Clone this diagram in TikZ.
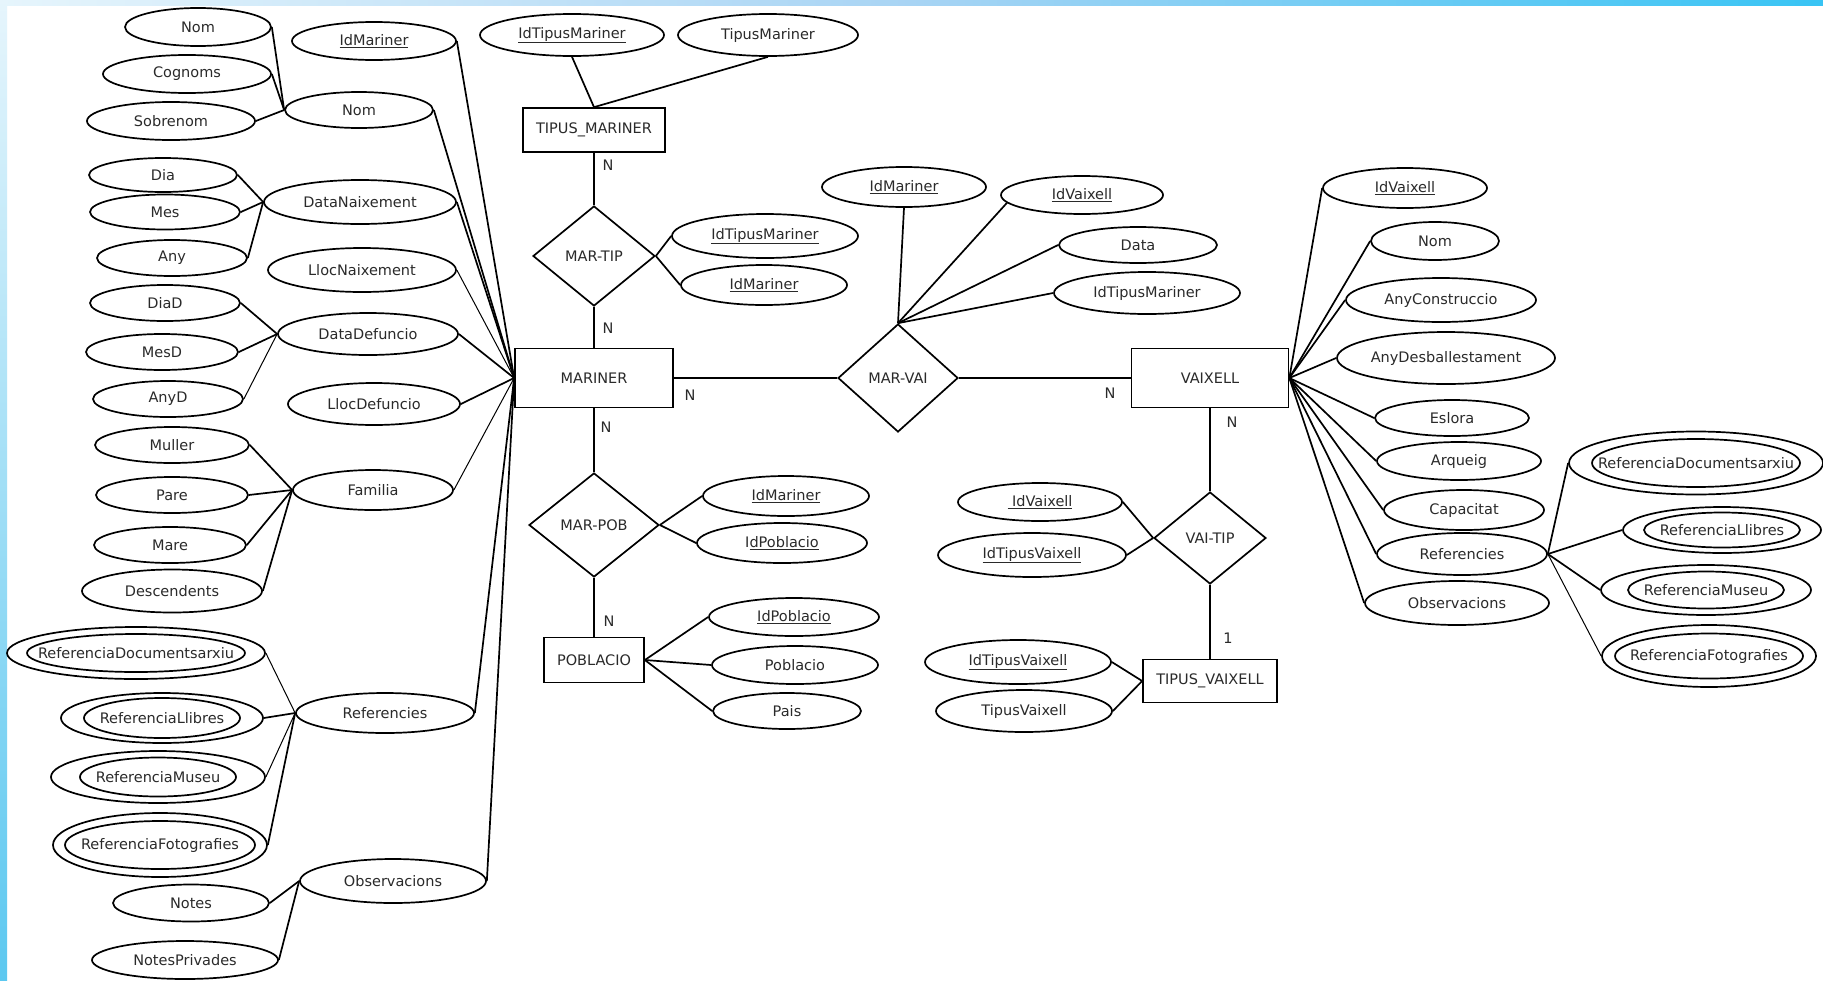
\documentclass[tikz,border=0pt]{standalone}
\usepackage{fontspec}
\setmainfont{DejaVu Sans}
\usetikzlibrary{shapes.geometric}
\definecolor{txt}{HTML}{2A2A2A}
\definecolor{stripA}{HTML}{E6F5FC}
\definecolor{stripB}{HTML}{A8D4F4}
\definecolor{stripC}{HTML}{38C4F4}
\definecolor{stripD}{HTML}{5CC8F0}
\tikzset{
  lab/.style={font=\fontsize{14.5pt}{17pt}\selectfont, text=txt},
  attr/.style={draw, ellipse, line width=1.7pt, inner sep=0pt, lab},
  ent/.style={draw, rectangle, line width=1.7pt, inner sep=0pt, lab},
  rel/.style={draw, diamond, line width=1.7pt, inner sep=0pt, lab},
  conn/.style={line width=1.7pt},
  thinconn/.style={line width=1pt},
  card/.style={lab, inner sep=0pt}
}
% \at{name}{x}{y}{w}{h}{text}
\newcommand{\at}[6]{\node[attr, minimum width=#4pt, minimum height=#5pt] (#1) at (#2,#3) {\makebox[0pt]{#6}};}
% \dat{name}{x}{y}{w}{h}{inner w}{inner h}{text}
\newcommand{\dat}[8]{\node[attr, minimum width=#4pt, minimum height=#5pt] (#1) at (#2,#3) {};
  \node[attr, minimum width=#6pt, minimum height=#7pt] (#1-in) at (#2,#3) {\makebox[0pt]{#8}};}
\begin{document}
\begin{tikzpicture}[x=1pt, y=-1pt]
\useasboundingbox (0,0) rectangle (1823,980);
\fill[white] (0,0) rectangle (1823,980);
\shade[left color=stripA, right color=stripC, middle color=stripB] (0,0) rectangle (1823,5);
\shade[top color=stripA, bottom color=stripD] (0,0) rectangle (7,980);

% ---- left attributes of MARINER
\at{nomA}{198}{27}{146}{38}{Nom}
\at{idmar1}{374}{41}{164}{38}{\underline{IdMariner}}
\at{cognoms}{187}{74}{168}{38}{Cognoms}
\at{sobrenom}{171}{121}{168}{38}{Sobrenom}
\at{nomC}{359}{110}{148}{36}{Nom}
\at{dia}{163}{175}{148}{34}{Dia}
\at{mes}{165}{212}{150}{35}{Mes}
\at{any}{172}{258}{150}{36}{Any}
\at{datanaix}{360}{202}{192}{44}{DataNaixement}
\at{llocnaix}{362}{270}{188}{44}{LlocNaixement}
\at{diad}{165}{303}{150}{36}{DiaD}
\at{datadef}{368}{334}{180}{42}{DataDefuncio}
\at{mesd}{162}{352}{152}{36}{MesD}
\at{anyd}{168}{399}{150}{36}{AnyD}
\at{llocdef}{374}{404}{172}{42}{LlocDefuncio}
\at{muller}{172}{445}{154}{36}{Muller}
\at{pare}{172}{495}{152}{36}{Pare}
\at{mare}{170}{545}{152}{36}{Mare}
\at{desc}{172}{591}{180}{43}{Descendents}
\at{familia}{373}{490}{160}{40}{Familia}
\dat{refdocL}{136}{653}{258}{52}{218}{38}{ReferenciaDocumentsarxiu}
\dat{reflibL}{162}{718}{202}{50}{156}{40}{ReferenciaLlibres}
\dat{refmusL}{158}{777}{214}{52}{156}{39}{ReferenciaMuseu}
\dat{reffotL}{160}{845}{214}{64}{190}{48}{ReferenciaFotografies}
\at{refL}{385}{713}{178}{40}{Referencies}
\at{obsL}{393}{881}{186}{44}{Observacions}
\at{notes}{191}{903}{156}{37}{Notes}
\at{notespriv}{185}{960}{186}{38}{NotesPrivades}

% ---- middle
\at{idtm1}{572}{35}{184}{42}{\underline{IdTipusMariner}}
\at{tipm}{768}{35}{180}{42}{TipusMariner}
\node[ent, minimum width=142pt, minimum height=44pt] (tipmar) at (594,130) {TIPUS\_MARINER};
\node[rel, minimum width=122pt, minimum height=100pt] (martip) at (594,256) {MAR-TIP};
\at{idtm2}{765}{236}{186}{44}{\underline{IdTipusMariner}}
\at{idmar2}{764}{285}{166}{40}{\underline{IdMariner}}
\node[ent, minimum width=158pt, minimum height=59pt] (mariner) at (594,378) {MARINER};
\node[rel, minimum width=130pt, minimum height=104pt] (marpob) at (594,525) {MAR-POB};
\at{idmar3}{786}{496}{166}{40}{\underline{IdMariner}}
\at{idpob1}{782}{543}{170}{40}{I\underline{dPoblacio}}
\node[ent, minimum width=100pt, minimum height=45pt] (poblacio) at (594,660) {POBLACIO};
\at{idpob2}{794}{617}{170}{38}{\underline{IdPoblacio}}
\at{pobl}{795}{665}{166}{38}{Poblacio}
\at{pais}{787}{711}{148}{36}{Pais}
\node[rel, minimum width=120pt, minimum height=108pt] (marvai) at (898,378) {MAR-VAI};
\at{idmar4}{904}{187}{164}{40}{\underline{IdMariner}}
\at{idvai1}{1082}{195}{162}{38}{\underline{IdVaixell}}
\at{data}{1138}{245}{158}{36}{Data}
\at{idtm3}{1147}{293}{186}{42}{IdTipusMariner}
\node[ent, minimum width=157pt, minimum height=59pt] (vaixell) at (1210,378) {VAIXELL};
\node[rel, minimum width=112pt, minimum height=92pt] (vaitip) at (1210,538) {VAI-TIP};
\at{idvai2}{1040}{502}{164}{38}{\underline{\ IdVaixell}}
\at{idtv1}{1032}{555}{188}{44}{\underline{IdTipusVaixell}}
\node[ent, minimum width=134pt, minimum height=43pt] (tipvai) at (1210,681) {TIPUS\_VAIXELL};
\at{idtv2}{1018}{662}{186}{44}{\underline{IdTipusVaixell}}
\at{tipv}{1024}{711}{176}{42}{TipusVaixell}

% ---- right attributes of VAIXELL
\at{idvai3}{1405}{188}{164}{40}{\underline{IdVaixell}}
\at{nomV}{1435}{241}{128}{38}{Nom}
\at{anycons}{1441}{300}{190}{44}{AnyConstruccio}
\at{anydes}{1446}{358}{218}{52}{AnyDesballestament}
\at{eslora}{1452}{418}{154}{36}{Eslora}
\at{arqueig}{1459}{461}{164}{38}{Arqueig}
\at{capacitat}{1464}{510}{160}{40}{Capacitat}
\at{refR}{1462}{554}{170}{42}{Referencies}
\at{obsR}{1457}{603}{184}{44}{Observacions}
\dat{refdocR}{1696}{463}{254}{63}{208}{48}{ReferenciaDocumentsarxiu}
\dat{reflibR}{1722}{530}{198}{46}{156}{35}{ReferenciaLlibres}
\dat{refmusR}{1706}{590}{210}{50}{156}{37}{ReferenciaMuseu}
\dat{reffotR}{1709}{656}{214}{62}{188}{45}{ReferenciaFotografies}

% ---- connectors: composite attributes
\draw[conn] (nomA.east) -- (nomC.west);
\draw[conn] (cognoms.east) -- (nomC.west);
\draw[conn] (sobrenom.east) -- (nomC.west);
\draw[conn] (dia.east) -- (datanaix.west);
\draw[conn] (mes.east) -- (datanaix.west);
\draw[conn] (any.east) -- (datanaix.west);
\draw[conn] (diad.east) -- (datadef.west);
\draw[conn] (mesd.east) -- (datadef.west);
\draw[thinconn] (anyd.east) -- (datadef.west);
\draw[conn] (muller.east) -- (familia.west);
\draw[conn] (pare.east) -- (familia.west);
\draw[conn] (mare.east) -- (familia.west);
\draw[conn] (desc.east) -- (familia.west);
\draw[thinconn] (refdocL.east) -- (refL.west);
\draw[conn] (reflibL.east) -- (refL.west);
\draw[thinconn] (refmusL.east) -- (refL.west);
\draw[conn] (reffotL.east) -- (refL.west);
\draw[conn] (notes.east) -- (obsL.west);
\draw[conn] (notespriv.east) -- (obsL.west);

% ---- MARINER attributes
\draw[conn] (idmar1.east) -- (mariner.west);
\draw[conn] (nomC.east) -- (mariner.west);
\draw[conn] (datanaix.east) -- (mariner.west);
\draw[thinconn] (llocnaix.east) -- (mariner.west);
\draw[conn] (datadef.east) -- (mariner.west);
\draw[conn] (llocdef.east) -- (mariner.west);
\draw[thinconn] (familia.east) -- (mariner.west);
\draw[conn] (refL.east) -- (mariner.west);
\draw[conn] (obsL.east) -- (mariner.west);

% ---- TIPUS_MARINER / MAR-TIP
\draw[conn] (idtm1.south) -- (tipmar.north);
\draw[conn] (tipm.south) -- (tipmar.north);
\draw[conn] (tipmar.south) -- (martip.north);
\draw[conn] (martip.south) -- (mariner.north);
\draw[conn] (idtm2.west) -- (martip.east);
\draw[conn] (idmar2.west) -- (martip.east);

% ---- MAR-POB / POBLACIO
\draw[conn] (mariner.south) -- (marpob.north);
\draw[conn] (marpob.south) -- (poblacio.north);
\draw[conn] (idmar3.west) -- (marpob.east);
\draw[conn] (idpob1.west) -- (marpob.east);
\draw[conn] (poblacio.east) -- (idpob2.west);
\draw[conn] (poblacio.east) -- (pobl.west);
\draw[conn] (poblacio.east) -- (pais.west);

% ---- MAR-VAI
\draw[conn] (mariner.east) -- (marvai.west);
\draw[conn] (marvai.east) -- (vaixell.west);
\draw[conn] (idmar4.south) -- (marvai.north);
\draw[conn] (idvai1.186) -- (marvai.north);
\draw[conn] (data.west) -- (marvai.north);
\draw[conn] (idtm3.west) -- (marvai.north);

% ---- VAI-TIP / TIPUS_VAIXELL
\draw[conn] (vaixell.south) -- (vaitip.north);
\draw[conn] (vaitip.south) -- (tipvai.north);
\draw[conn] (idvai2.east) -- (vaitip.west);
\draw[conn] (idtv1.east) -- (vaitip.west);
\draw[conn] (idtv2.east) -- (tipvai.west);
\draw[conn] (tipv.east) -- (tipvai.west);

% ---- VAIXELL attributes
\draw[conn] (idvai3.west) -- (vaixell.east);
\draw[conn] (nomV.west) -- (vaixell.east);
\draw[conn] (anycons.west) -- (vaixell.east);
\draw[conn] (anydes.west) -- (vaixell.east);
\draw[conn] (eslora.west) -- (vaixell.east);
\draw[conn] (arqueig.west) -- (vaixell.east);
\draw[conn] (capacitat.west) -- (vaixell.east);
\draw[conn] (refR.west) -- (vaixell.east);
\draw[conn] (obsR.west) -- (vaixell.east);
\draw[conn] (refR.east) -- (refdocR.west);
\draw[conn] (refR.east) -- (reflibR.west);
\draw[conn] (refR.east) -- (refmusR.west);
\draw[thinconn] (refR.east) -- (reffotR.west);

% ---- cardinalities
\node[card] (c1) at (608,165) {N};
\node[card] (c2) at (608,328) {N};
\node[card] (c3) at (690,395) {N};
\node[card] (c4) at (606,427) {N};
\node[card] (c5) at (609,621) {N};
\node[card] (c6) at (1110,393) {N};
\node[card] (c7) at (1232,422) {N};
\node[card] (c8) at (1228,638) {1};
\end{tikzpicture}
\end{document}
